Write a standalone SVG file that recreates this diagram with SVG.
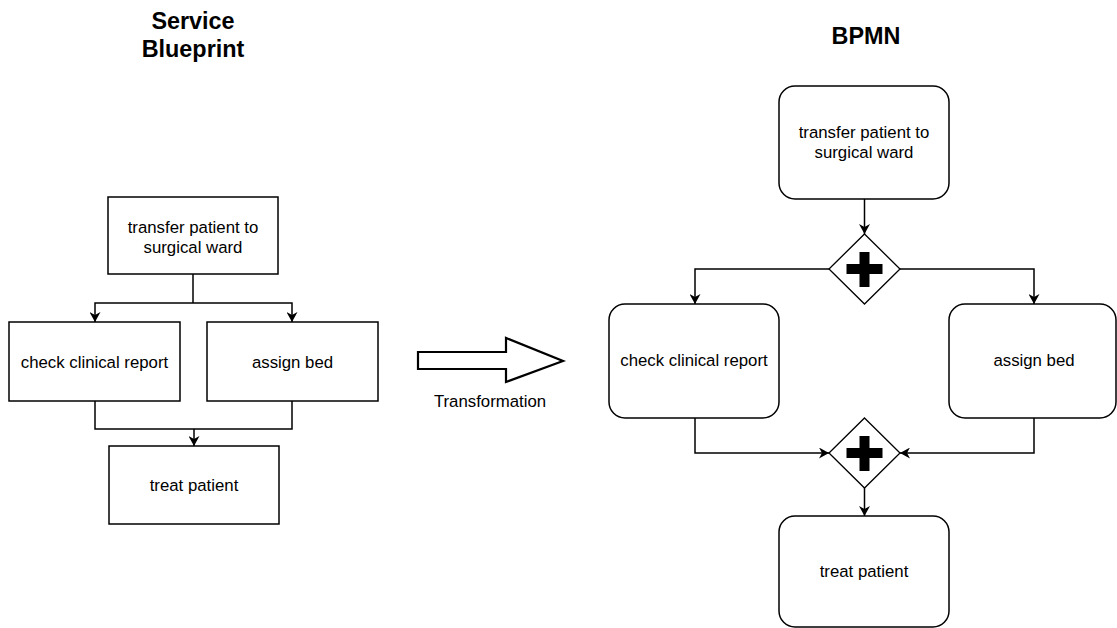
<svg xmlns="http://www.w3.org/2000/svg" width="1117" height="628" viewBox="0 0 1117 628">
  <defs>
    <marker id="arrow" viewBox="0 0 10 11" markerWidth="10" markerHeight="11" refX="10" refY="5.5" orient="auto" markerUnits="userSpaceOnUse">
      <path d="M0,0 L10,5.5 L0,11 L3,5.5 Z" fill="#000"/>
    </marker>
  </defs>
  <style>
    text { font-family: "Liberation Sans", Arial, sans-serif; fill: #000; text-anchor: middle; }
    .label { font-size: 16.8px; }
    .title { font-size: 23.4px; font-weight: bold; }
    .box { fill: #fff; stroke: #000; stroke-width: 1.5; }
    .flow { fill: none; stroke: #000; stroke-width: 1.5; }
    .flow.end { marker-end: url(#arrow); }
    .gateway { fill: #fff; stroke: #000; stroke-width: 1.3; }
    .plus { fill: #000; }
  </style>
  <rect width="1117" height="628" fill="#fff"/>

  <!-- headings -->
  <g id="title-blueprint">
    <text class="title" x="193" y="29">Service</text>
    <text class="title" x="193" y="56.5">Blueprint</text>
  </g>
  <g id="title-bpmn">
    <text class="title" x="866" y="43.5">BPMN</text>
  </g>

  <!-- connectors -->
  <g id="connectors">
    <!-- blueprint: split -->
    <path class="flow" d="M193,274 V303"/>
    <path class="flow end" d="M193,303 H95 V322"/>
    <path class="flow end" d="M193,303 H292 V322"/>
    <!-- blueprint: merge -->
    <path class="flow" d="M95,401 V429 H292 V401"/>
    <path class="flow end" d="M194,429 V446"/>

    <!-- bpmn -->
    <path class="flow end" d="M864.5,199 V234"/>
    <path class="flow end" d="M829,269 H695 V304"/>
    <path class="flow end" d="M900,269 H1034 V304"/>
    <path class="flow end" d="M695,418 V453 H829"/>
    <path class="flow end" d="M1034,418 V453 H900"/>
    <path class="flow end" d="M864.5,488 V516"/>
  </g>

  <!-- service blueprint nodes -->
  <g id="sb-transfer">
    <rect class="box" x="108" y="197" width="170" height="77"/>
    <text class="label" x="193" y="233">transfer patient to</text>
    <text class="label" x="193" y="252.5">surgical ward</text>
  </g>
  <g id="sb-check">
    <rect class="box" x="9" y="322" width="171" height="79"/>
    <text class="label" x="94.5" y="368">check clinical report</text>
  </g>
  <g id="sb-assign">
    <rect class="box" x="207" y="322" width="171" height="79"/>
    <text class="label" x="292.5" y="368">assign bed</text>
  </g>
  <g id="sb-treat">
    <rect class="box" x="109" y="446" width="170" height="78"/>
    <text class="label" x="194" y="491">treat patient</text>
  </g>

  <!-- transformation arrow -->
  <g id="transformation">
    <polygon points="418,352 506,352 506,338 563,361 506,382 506,369 418,369" fill="#fff" stroke="#000" stroke-width="2.2" stroke-linejoin="miter"/>
    <text class="label" x="490" y="407">Transformation</text>
  </g>

  <!-- bpmn nodes -->
  <g id="bpmn-transfer">
    <rect class="box" x="779" y="86" width="170" height="113" rx="16" ry="16"/>
    <text class="label" x="864" y="138">transfer patient to</text>
    <text class="label" x="864" y="157.5">surgical ward</text>
  </g>
  <g id="bpmn-split">
    <polygon class="gateway" points="864.5,234 900,269 864.5,304 829,269"/>
    <path class="plus" d="M859.5,252 H869.5 V264 H882.5 V274 H869.5 V287 H859.5 V274 H846.5 V264 H859.5 Z"/>
  </g>
  <g id="bpmn-check">
    <rect class="box" x="609" y="304" width="170" height="114" rx="16" ry="16"/>
    <text class="label" x="694" y="366">check clinical report</text>
  </g>
  <g id="bpmn-assign">
    <rect class="box" x="949" y="304" width="167" height="114" rx="16" ry="16"/>
    <text class="label" x="1034" y="366">assign bed</text>
  </g>
  <g id="bpmn-join">
    <polygon class="gateway" points="864.5,418 900,453 864.5,488 829,453"/>
    <path class="plus" d="M859.5,436 H869.5 V448 H882.5 V458 H869.5 V471 H859.5 V458 H846.5 V448 H859.5 Z"/>
  </g>
  <g id="bpmn-treat">
    <rect class="box" x="779" y="516" width="170" height="111" rx="16" ry="16"/>
    <text class="label" x="864" y="577">treat patient</text>
  </g>
</svg>
